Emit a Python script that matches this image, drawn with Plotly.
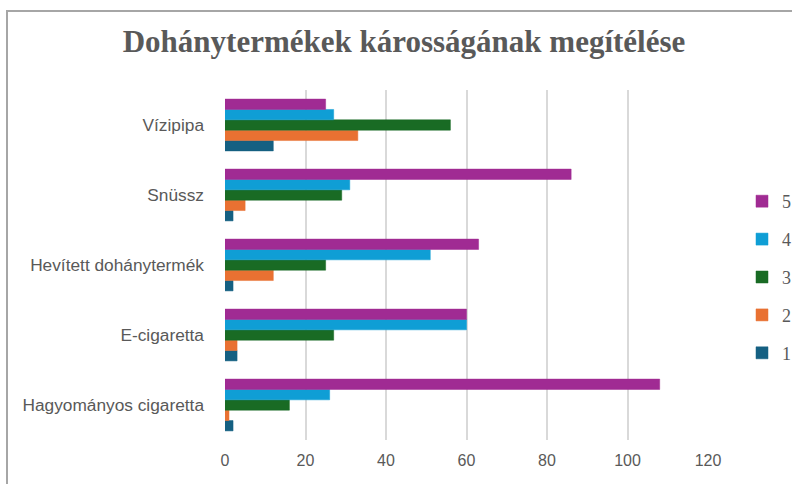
import plotly.graph_objects as go

categories = ["Hagyományos cigaretta", "E-cigaretta", "Hevített dohánytermék", "Snüssz", "Vízipipa"]
series_names = ["1", "2", "3", "4", "5"]
values_1 = [2, 3, 2, 2, 12]
values_2 = [1, 3, 12, 5, 33]
values_3 = [16, 27, 25, 29, 56]
values_4 = [26, 60, 51, 31, 27]
values_5 = [108, 60, 63, 86, 25]
colors = ["#156082", "#E97132", "#196B24", "#0F9ED5", "#A02B93"]
x_ticks = [0, 20, 40, 60, 80, 100, 120]

all_values = [values_1, values_2, values_3, values_4, values_5]

fig = go.Figure()
for i, (name, vals, col) in enumerate(zip(series_names, all_values, colors)):
    fig.add_trace(go.Bar(
        y=categories, x=vals, name=name, orientation="h",
        marker=dict(color=col, line=dict(color=col, width=0.5)),
        legendgroup=name, legendrank=len(series_names) - i,
    ))

L, R, T, B = 225, 84, 90, 44
W, H = 792, 484
pw, ph = W - L - R, H - T - B

def px(xp):
    return (xp - L) / pw

def py(yp):
    return (H - B - yp) / ph

fig.update_layout(
    width=W, height=H,
    margin=dict(l=L, r=R, t=T, b=B, autoexpand=False),
    paper_bgcolor="white", plot_bgcolor="white",
    barmode="group", bargap=0.26, bargroupgap=0,
    title=dict(text="<b>Dohánytermékek károsságának megítélése</b>",
               x=404 / W, xref="container", xanchor="center",
               y=1 - 41 / H, yref="container", yanchor="middle",
               font=dict(family="Liberation Serif", size=31, color="#595959")),
    xaxis=dict(range=[0, 120], tickvals=x_ticks, showgrid=True, gridcolor="#D9D9D9",
               gridwidth=1.5, zeroline=False, showline=False, automargin=False,
               tickfont=dict(family="Liberation Sans", size=16, color="#595959"),
               ticks="", ticklabelstandoff=9),
    yaxis=dict(showgrid=False, zeroline=False, showline=False, automargin=False,
               tickfont=dict(family="Liberation Sans", size=17.3, color="#595959"),
               ticks="", ticklabelstandoff=20),
    legend=dict(x=px(742), xanchor="left", y=py(277), yanchor="middle",
                traceorder="grouped", tracegroupgap=11.5,
                font=dict(family="Liberation Serif", size=18, color="#595959"),
                itemwidth=30, bgcolor="rgba(0,0,0,0)"),
    shapes=[dict(type="rect", xref="paper", yref="paper",
                 x0=px(7), x1=px(800), y0=py(500), y1=py(11),
                 line=dict(color="#A6A6A6", width=2), fillcolor="rgba(0,0,0,0)",
                 layer="below")],
)

fig.write_html("out.html", config={"displayModeBar": False},
               post_script="document.body.style.margin='0';document.body.style.padding='0';")
